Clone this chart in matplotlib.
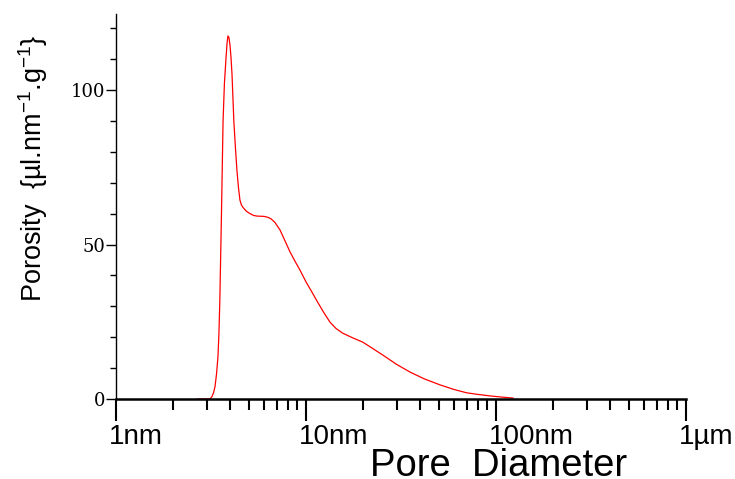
import numpy as np
import matplotlib.pyplot as plt
from matplotlib.transforms import ScaledTranslation

# pore diameter (nm) and porosity (ul/nm/g)
diam = [2.70, 3.12, 3.20, 3.26, 3.32, 3.38, 3.44, 3.48, 3.52, 3.59, 3.66, 3.72,
        3.79, 3.84, 3.88, 3.93, 3.98, 4.03, 4.08, 4.17, 4.25, 4.33, 4.41, 4.49,
        4.57, 4.66, 4.85, 5.07, 5.30, 5.52, 6.01, 6.30, 6.55, 6.87, 7.30, 7.75,
        8.24, 8.75, 9.30, 10.0, 10.7, 11.4, 12.4, 13.4, 14.4, 15.6, 17.6, 19.9,
        22.5, 25.4, 30.0, 35.3, 42.0, 50.6, 60.0, 70.1, 80.0, 93.0, 108.0, 123.0]
poro = [0.0, 0.0, 0.8, 2.0, 4.0, 8.0, 13.6, 21.0, 32.0, 60.0, 90.0, 102.0,
        110.0, 115.0, 117.5, 117.0, 114.6, 110.5, 105.0, 90.0, 81.5, 74.0, 68.5, 64.4,
        62.8, 62.0, 60.8, 60.0, 59.4, 59.2, 59.1, 58.8, 58.3, 57.1, 54.7, 51.2,
        47.6, 44.6, 41.7, 37.9, 34.8, 31.8, 28.0, 24.8, 22.8, 21.3, 19.8, 18.4,
        16.3, 14.2, 11.2, 8.7, 6.5, 4.6, 3.1, 2.0, 1.5, 1.0, 0.6, 0.3]

xticks = [1, 10, 100, 1000]
xlabels = ["1nm", "10nm", "100nm", "1µm"]
yticks = [0, 50, 100]

fig = plt.figure(figsize=(7.35, 4.79), dpi=100)
ax = fig.add_axes([116/735, 1 - 399/479, 570/735, 385/479])

ax.plot(diam, poro, color="red", lw=0.9)

ax.set_xscale("log")
ax.set_xlim(1, 1000)
ax.set_ylim(0, 124.6)

ax.spines["top"].set_visible(False)
ax.spines["right"].set_visible(False)
ax.spines["bottom"].set_linewidth(1.8)
ax.spines["left"].set_linewidth(1.0)

ax.set_xticks(xticks)
ax.set_xticklabels(xlabels, fontsize=20, family="Liberation Sans", ha="left")
ax.set_xticks([m * 10**e for e in range(0, 3) for m in range(2, 10)], minor=True)
ax.tick_params(axis="x", which="major", direction="out", length=16, width=1.5, pad=2)
ax.tick_params(axis="x", which="minor", direction="out", length=8, width=1.5)
offset = ScaledTranslation(-7/100, 0, fig.dpi_scale_trans)
for lab in ax.get_xticklabels():
    lab.set_transform(lab.get_transform() + offset)

ax.set_yticks(yticks)
ax.set_yticklabels([str(v) for v in yticks], fontsize=13, family="DejaVu Serif")
ax.set_yticks(np.arange(10, 125, 10), minor=True)
ax.tick_params(axis="y", which="major", direction="out", length=7, width=1.0, pad=1)
ax.tick_params(axis="y", which="minor", direction="out", length=4, width=1.0)

fig.text(499/735, 1 - 466/479, "Pore  Diameter", fontsize=27.5, family="Liberation Sans",
         ha="center", va="center")
plt.rcParams["mathtext.default"] = "regular"
fig.text(33/735, 1 - 168/479, "Porosity  {µl.nm$^{-1}$.g$^{-1}$}", fontsize=19.5,
         family="Liberation Sans", rotation=90, ha="center", va="center")

fig.savefig("out.png", dpi=100)
